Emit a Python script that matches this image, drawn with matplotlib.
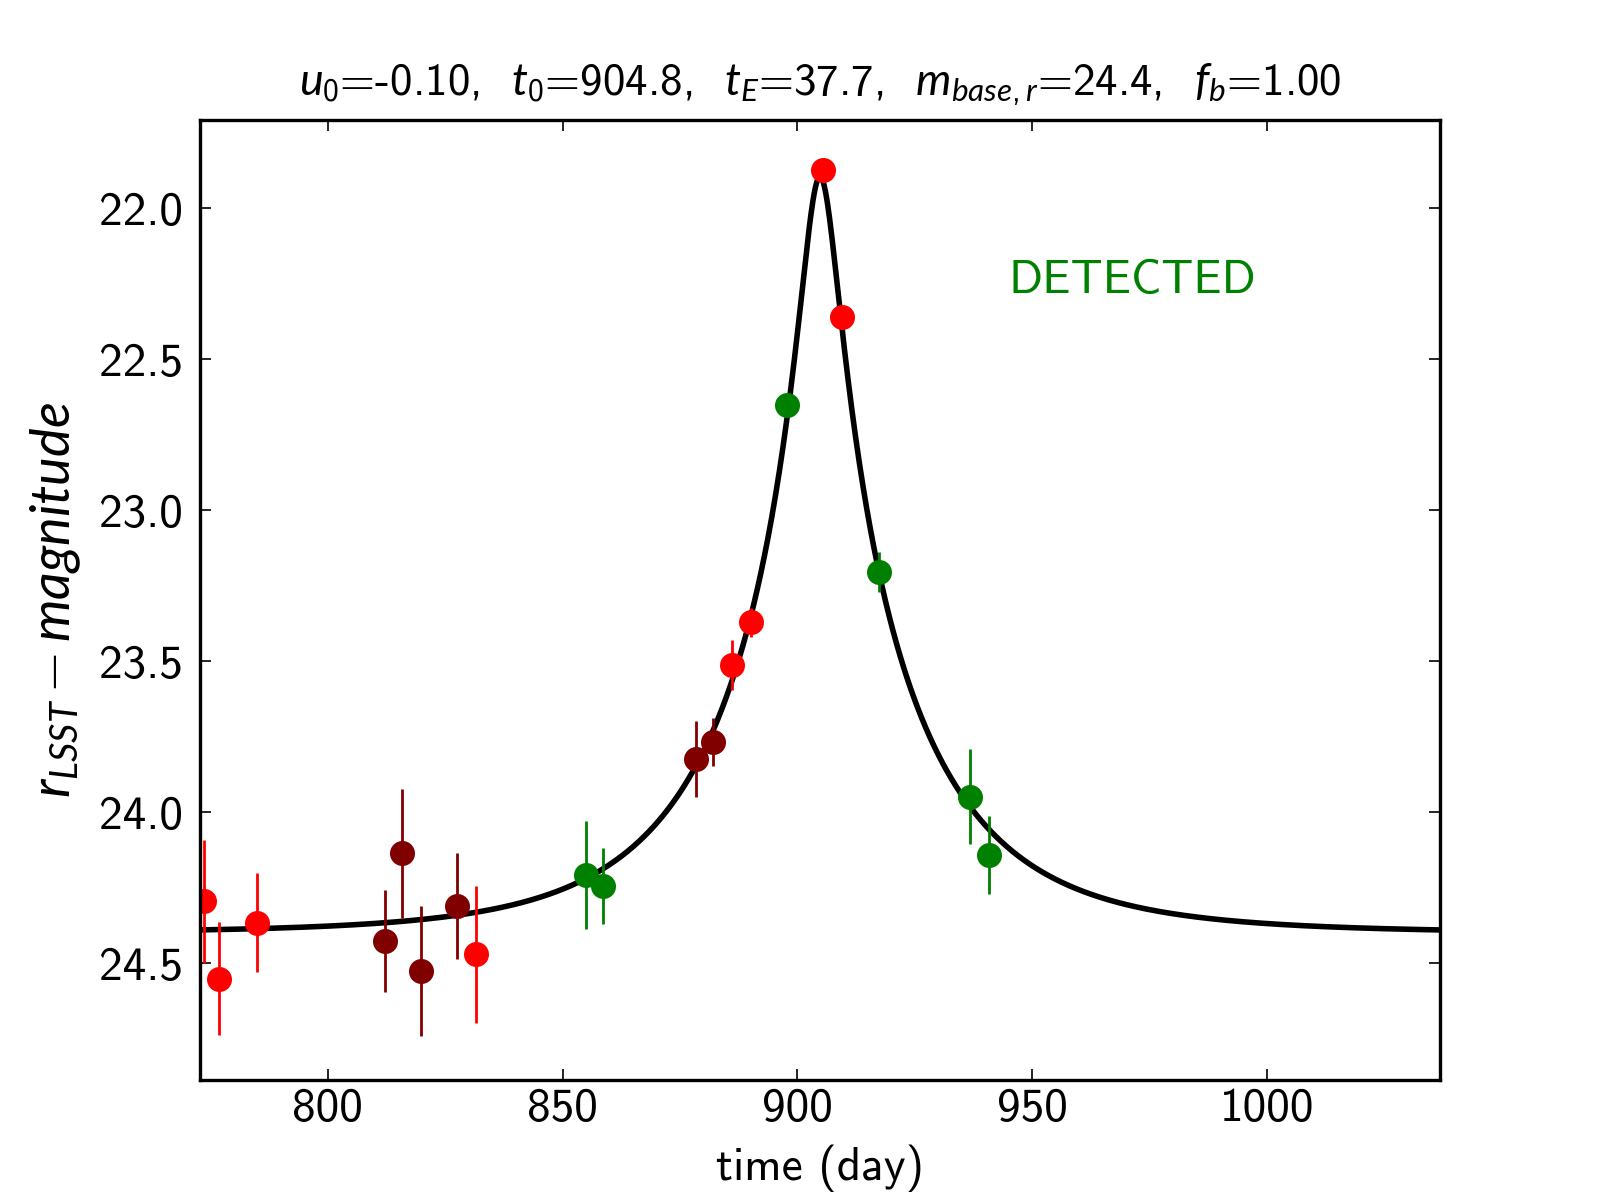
import matplotlib
matplotlib.use('Agg')
import matplotlib.pyplot as plt
import numpy as np

plt.rcParams['font.family'] = ['cmss10', 'DejaVu Sans']
plt.rcParams['mathtext.fontset'] = 'custom'
plt.rcParams['mathtext.rm'] = 'cmss10'
plt.rcParams['mathtext.it'] = 'Lato:italic'
plt.rcParams['axes.unicode_minus'] = False

# event parameters (from the title)
u0, t0, tE, mbase, fb = -0.10, 904.8, 37.7, 24.4, 1.00

# observed points, by colour group: time, magnitude, error
t_red = [773.7, 777.0, 784.9, 831.6, 886.1, 890.1, 905.5, 909.5]
m_red = [24.295, 24.550, 24.366, 24.470, 23.512, 23.371, 21.875, 22.360]
e_red = [0.205, 0.188, 0.164, 0.227, 0.082, 0.049, 0.015, 0.015]

t_dark = [812.2, 815.85, 819.8, 827.5, 878.4, 882.1]
m_dark = [24.426, 24.136, 24.525, 24.309, 23.824, 23.766]
e_dark = [0.170, 0.213, 0.214, 0.175, 0.125, 0.079]

t_green = [854.9, 858.7, 897.8, 917.4, 936.7, 940.7]
m_green = [24.208, 24.244, 22.651, 23.205, 23.948, 24.141]
e_green = [0.178, 0.126, 0.015, 0.066, 0.158, 0.128]

fig = plt.figure(figsize=(8, 6), dpi=200)
ax = fig.add_axes([0.125, 0.1, 0.775, 0.8])

# Paczynski model curve
tt = np.linspace(t0 - 3.5 * tE, t0 + 3.5 * tE, 2000)
u = np.sqrt(u0**2 + ((tt - t0) / tE)**2)
A = (u**2 + 2) / (u * np.sqrt(u**2 + 4))
mag = mbase - 2.5 * np.log10(fb * A + (1 - fb))
ax.plot(tt, mag, color='black', lw=2, zorder=1)

for t, m, e, c in [(t_red, m_red, e_red, '#ff0000'),
                   (t_dark, m_dark, e_dark, '#800000'),
                   (t_green, m_green, e_green, '#008000')]:
    ax.errorbar(t, m, yerr=e, fmt='o', color=c, ecolor=c, ms=8,
                mec=c, elinewidth=1, capsize=0, zorder=2)

ax.set_xlim(t0 - 3.5 * tE, t0 + 3.5 * tE)
ax.set_ylim(24.886, 21.708)
ax.set_xticks([800, 850, 900, 950, 1000])
ax.set_yticks([22.0, 22.5, 23.0, 23.5, 24.0, 24.5])
ax.set_yticklabels(['22.0', '22.5', '23.0', '23.5', '24.0', '24.5'])
ax.tick_params(direction='in', top=True, right=True, length=4, width=0.6,
               labelsize=17)
ax.tick_params(axis='x', pad=3)
ax.tick_params(axis='y', pad=6)
for s in ax.spines.values():
    s.set_linewidth(1.2)

ax.set_xlabel('time (day)', fontsize=17, labelpad=5)
ax.set_ylabel(r'$r_{LSST} - magnitude$', fontsize=19.5, labelpad=6)
ax.set_title(r'$u_0$=-0.10,  $t_0$=904.8,  $t_E$=37.7,  $m_{base,r}$=24.4,  $f_b$=1.00',
             fontsize=16.2, pad=9)
ax.text(0.652, 0.8195, 'DETECTED', color='#008000', fontsize=17,
        transform=ax.transAxes, ha='left', va='baseline')

fig.savefig('out.png', dpi=200)
